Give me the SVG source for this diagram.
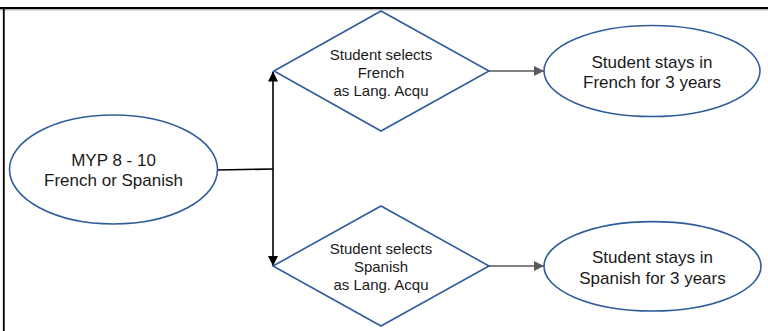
<svg xmlns="http://www.w3.org/2000/svg" width="768" height="331" viewBox="0 0 768 331">
<style>
.node{fill:#fff;stroke:#2f5d9b;stroke-width:1.6}
.t{font-family:"Liberation Sans",Arial,sans-serif;fill:#1a1a1a;text-anchor:middle}
.big{font-size:17px}
.small{font-size:15px}
.blk{stroke:#000;stroke-width:1.6;fill:none}
.gry{stroke:#595959;stroke-width:1.6;fill:none}
</style>
<defs>
<marker id="ab" viewBox="0 0 10 10" refX="10" refY="5" markerWidth="10" markerHeight="10" markerUnits="userSpaceOnUse" orient="auto">
<path d="M0,0 L10,5 L0,10 z" fill="#000"/>
</marker>
<marker id="ag" viewBox="0 0 10 10" refX="10" refY="5" markerWidth="10" markerHeight="10" markerUnits="userSpaceOnUse" orient="auto">
<path d="M0,0 L10,5 L0,10 z" fill="#595959"/>
</marker>
</defs>
<rect width="768" height="331" fill="#fff"/>
<g id="frame">
<line x1="0" y1="9.8" x2="768" y2="9.8" stroke="#999" stroke-width="1"/>
<line x1="0" y1="8" x2="768" y2="8" stroke="#000" stroke-width="2"/>
<line x1="3.8" y1="7" x2="3.8" y2="331" stroke="#000" stroke-width="1.8"/>
</g>
<g id="connectors">
<polyline class="blk" points="218,170 273,169"/>
<line class="blk" x1="273" y1="169" x2="273" y2="71.5" marker-end="url(#ab)"/>
<line class="blk" x1="273" y1="169" x2="273" y2="266" marker-end="url(#ab)"/>
<line class="gry" x1="489" y1="71" x2="544" y2="71" marker-end="url(#ag)"/>
<line class="gry" x1="489" y1="266" x2="544" y2="266" marker-end="url(#ag)"/>
</g>
<g id="myp">
<ellipse class="node" cx="113.5" cy="169.5" rx="104" ry="54.5"/>
<text class="t big" x="113.5" y="165.7">MYP 8 - 10</text>
<text class="t big" x="113.5" y="185.5">French or Spanish</text>
</g>
<g id="select-french">
<polygon class="node" points="274,71 381,11 489,71 381,131"/>
<text class="t small" x="381" y="59.5">Student selects</text>
<text class="t small" x="381" y="77.5">French</text>
<text class="t small" x="381" y="95.5">as Lang. Acqu</text>
</g>
<g id="select-spanish">
<polygon class="node" points="273,266 381,206 489,266 381,326"/>
<text class="t small" x="381" y="253.5">Student selects</text>
<text class="t small" x="381" y="271.8">Spanish</text>
<text class="t small" x="381" y="290">as Lang. Acqu</text>
</g>
<g id="stay-french">
<ellipse class="node" cx="652" cy="71" rx="108" ry="45.5"/>
<text class="t big" x="652" y="67.7">Student stays in</text>
<text class="t big" x="652" y="87.7">French for 3 years</text>
</g>
<g id="stay-spanish">
<ellipse class="node" cx="652.5" cy="266.3" rx="108.5" ry="44.7"/>
<text class="t big" x="652.5" y="263">Student stays in</text>
<text class="t big" x="652.5" y="284">Spanish for 3 years</text>
</g>
</svg>
